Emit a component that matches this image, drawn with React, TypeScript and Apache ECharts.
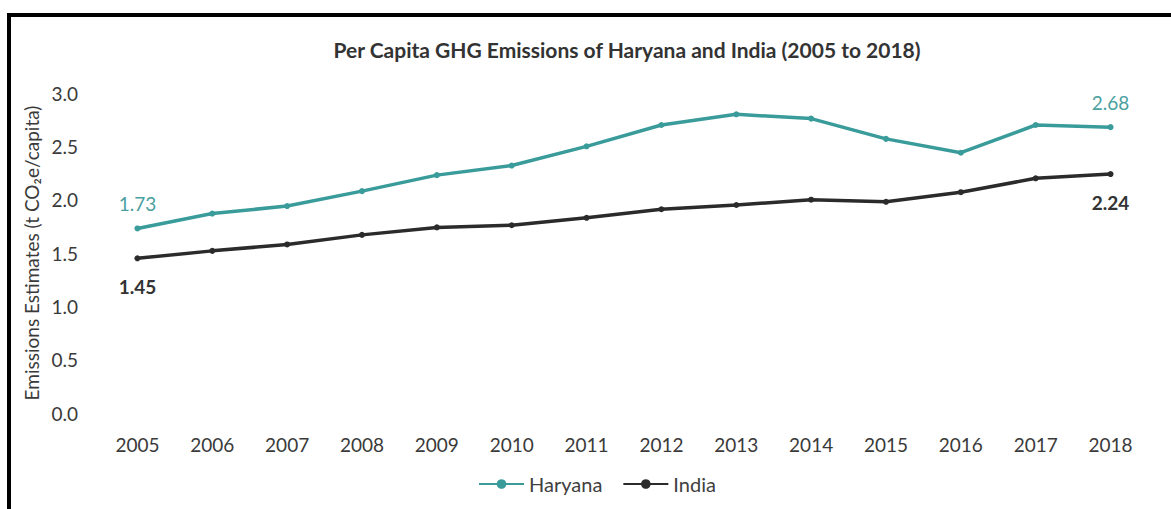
import React, { useEffect, useRef } from "react";
import * as echarts from "echarts";

const years = ["2005", "2006", "2007", "2008", "2009", "2010", "2011", "2012", "2013", "2014", "2015", "2016", "2017", "2018"];
const haryana = [1.73, 1.87, 1.94, 2.08, 2.23, 2.32, 2.5, 2.7, 2.8, 2.76, 2.57, 2.44, 2.7, 2.68];
const india = [1.45, 1.52, 1.58, 1.67, 1.74, 1.76, 1.83, 1.91, 1.95, 2.0, 1.98, 2.07, 2.2, 2.24];
const titleText = "Per Capita GHG Emissions of Haryana and India (2005 to 2018)";
const yAxisName = "Emissions Estimates (t CO₂e/capita)";

const TEAL = "#3a9b9b";
const DARK = "#2b2b2b";
const FONT = "Lato, 'Open Sans', sans-serif";

export default function App() {
  const ref = useRef<HTMLDivElement>(null);
  useEffect(() => {
    if (!ref.current) return;
    const chart = echarts.init(ref.current, undefined, { renderer: "svg" });
    const last = years.length - 1;
    const endLabel = (color: string, pos: string, weight: string, dist: number) => ({
      show: true,
      position: pos,
      distance: dist,
      color,
      fontSize: 19,
      fontFamily: FONT,
      fontWeight: weight,
      formatter: (p: any) => (p.dataIndex === 0 || p.dataIndex === last ? p.value.toFixed(2) : ""),
    });
    chart.setOption({
      animation: false,
      backgroundColor: "#ffffff",
      textStyle: { fontFamily: FONT },
      title: {
        text: titleText,
        left: 622,
        top: 34,
        textAlign: "center",
        textStyle: { fontSize: 21, fontWeight: "bold", color: "#333333", fontFamily: FONT },
      },
      legend: {
        bottom: 10,
        left: 473,
        itemWidth: 45,
        itemHeight: 12,
        itemGap: 20,
        textStyle: { fontSize: 20, color: "#404040", fontFamily: FONT },
        data: ["Haryana", "India"],
      },
      grid: { left: 100, right: 23, top: 93, bottom: 96, containLabel: false },
      xAxis: {
        type: "category",
        data: years,
        boundaryGap: true,
        axisLine: { show: false },
        axisTick: { show: false },
        axisLabel: { color: "#3a3a3a", fontSize: 19, margin: 22, fontFamily: FONT },
      },
      yAxis: {
        type: "value",
        min: 0,
        max: 3,
        interval: 0.5,
        name: yAxisName,
        nameLocation: "middle",
        nameRotate: 90,
        nameGap: 58,
        nameTextStyle: { fontSize: 19, color: "#3a3a3a", fontFamily: FONT },
        axisLine: { show: false },
        axisTick: { show: false },
        splitLine: { show: false },
        axisLabel: { color: "#3a3a3a", fontSize: 19, margin: 22, formatter: (v: number) => v.toFixed(1), fontFamily: FONT },
      },
      series: [
        {
          name: "Haryana",
          type: "line",
          data: haryana,
          symbol: "circle",
          symbolSize: 6,
          lineStyle: { color: TEAL, width: 3.5 },
          itemStyle: { color: TEAL },
          label: endLabel("#4a9f9f", "top", "normal", 12),
        },
        {
          name: "India",
          type: "line",
          data: india,
          symbol: "circle",
          symbolSize: 6,
          lineStyle: { color: DARK, width: 3.5 },
          itemStyle: { color: DARK },
          label: endLabel("#333333", "bottom", "bold", 16),
        },
      ],
    });
    return () => chart.dispose();
  }, []);
  return (
    <div style={{ position: "fixed", left: 0, top: 0, width: 1171, height: 509, background: "#fff" }}>
      <div ref={ref} style={{ position: "absolute", left: 0, top: 0, width: 1171, height: 509 }} />
      <div
        style={{
          position: "absolute",
          left: 7,
          top: 13,
          width: 1164,
          height: 496,
          borderTop: "4px solid #000",
          borderLeft: "4px solid #000",
          boxSizing: "border-box",
          pointerEvents: "none",
        }}
      />
    </div>
  );
}
